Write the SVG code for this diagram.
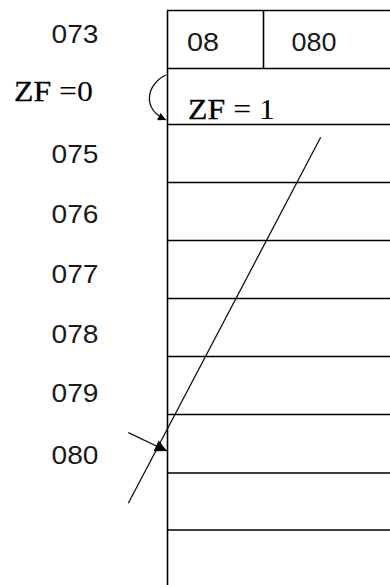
<svg xmlns="http://www.w3.org/2000/svg" width="390" height="585" viewBox="0 0 390 585">
<style>
.ln{stroke:#000;stroke-width:1.6;fill:none}
.num{font-family:"Liberation Sans",Arial,sans-serif;font-size:26px;fill:#1a1a1a}
.ser{font-family:"Liberation Serif","Times New Roman",serif;font-size:30px;fill:#000}
.zf{stroke:#000;stroke-width:0.3}
.con{stroke:#111;stroke-width:1.3;fill:none}
</style>
<defs>
<marker id="ah" viewBox="0 0 10 10" refX="10" refY="5" markerWidth="10" markerHeight="8" markerUnits="userSpaceOnUse" orient="auto">
<path d="M0,0 L10,5 L0,10 z" fill="#000"/>
</marker>
<marker id="ah2" viewBox="0 0 10 10" refX="10" refY="5" markerWidth="15" markerHeight="12" markerUnits="userSpaceOnUse" orient="auto">
<path d="M0,0 L10,5 L0,10 z" fill="#000"/>
</marker>
</defs>
<rect width="390" height="585" fill="#fff"/>
<g id="table">
<path class="ln" d="M167.5,10.5 V585 M167,10.5 H390 M263.5,10.5 V68.5 M167,68.5 H390 M167,124.5 H390 M167,182.5 H390 M167,240.5 H390 M167,298.5 H390 M167,356.5 H390 M167,414.5 H390 M167,473 H390 M167,530 H390"/>
</g>
<g id="header-cells">
<text class="num" x="187" y="50.5" textLength="32" lengthAdjust="spacingAndGlyphs">08</text>
<text class="num" x="291.5" y="50.5" textLength="45" lengthAdjust="spacingAndGlyphs">080</text>
</g>
<g id="cell-zf1">
<text class="ser" x="188" y="119" font-size="32" textLength="87" lengthAdjust="spacingAndGlyphs"><tspan class="zf">ZF</tspan> = 1</text>
</g>
<g id="addresses">
<text class="num" x="51.5" y="42.5" textLength="47" lengthAdjust="spacingAndGlyphs">073</text>
<text class="ser" x="14" y="101" textLength="79" lengthAdjust="spacingAndGlyphs"><tspan class="zf">ZF</tspan> =0</text>
<text class="num" x="51.5" y="163" textLength="47" lengthAdjust="spacingAndGlyphs">075</text>
<text class="num" x="51.5" y="222.5" textLength="47" lengthAdjust="spacingAndGlyphs">076</text>
<text class="num" x="51.5" y="282.5" textLength="47" lengthAdjust="spacingAndGlyphs">077</text>
<text class="num" x="51.5" y="343" textLength="47" lengthAdjust="spacingAndGlyphs">078</text>
<text class="num" x="51.5" y="402" textLength="47" lengthAdjust="spacingAndGlyphs">079</text>
<text class="num" x="51.5" y="463.5" textLength="47" lengthAdjust="spacingAndGlyphs">080</text>
</g>
<g id="connectors">
<line class="con" x1="320.7" y1="137.3" x2="128.3" y2="503.3"/>
<line class="con" x1="128.3" y1="432.7" x2="167" y2="451" marker-end="url(#ah2)"/>
<path class="con" d="M166,75 C147,84 141,108 166,120" marker-end="url(#ah)"/>
</g>
</svg>
